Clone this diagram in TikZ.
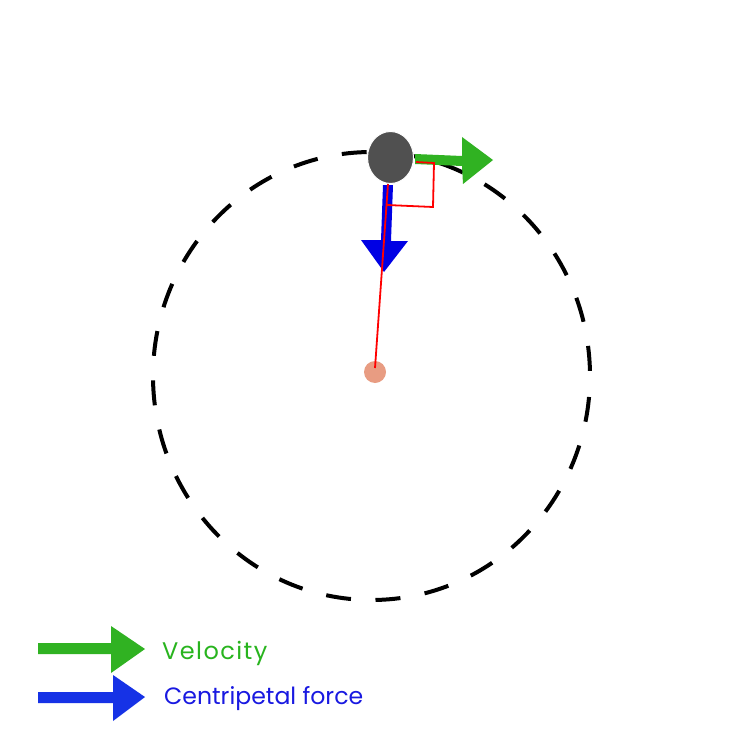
\documentclass[tikz,border=0pt]{standalone}
\usepackage{fontspec}
\setmainfont{Poppins}
\usetikzlibrary{shapes.geometric}
\definecolor{vgreen}{RGB}{48,178,34}
\definecolor{vtext}{RGB}{40,180,30}
\definecolor{fblue}{RGB}{0,0,228}
\definecolor{lblue}{RGB}{22,50,230}
\definecolor{ftext}{RGB}{25,25,225}
\definecolor{ballgray}{RGB}{80,80,80}
\definecolor{dotsalmon}{RGB}{232,156,130}
\begin{document}
\begin{tikzpicture}[x=1pt,y=-1pt,
  orbit/.style={line width=4pt, dash pattern=on 25pt off 24.6pt, dash phase=28.6pt},
  redline/.style={red, line width=1.8pt},
  legendtext/.style={anchor=base west, inner sep=0pt}]
\useasboundingbox (0,0) rectangle (754,754);
\fill[white] (0,0) rectangle (754,754);
% orbit
\draw[orbit] (371.5,376) ellipse [x radius=218.5, y radius=224];
% velocity arrow
\fill[vgreen] (415,154) -- (462,156) -- (462,137) -- (493,160) -- (463,184) -- (462,166) -- (415,164) -- cycle;
% force arrow
\fill[fblue] (383,185) -- (393,185) -- (391,241) -- (408,241) -- (384,272) -- (361,240) -- (381,240) -- cycle;
% centre
\node[circle, fill=dotsalmon, minimum size=22pt, inner sep=0pt] (centre) at (375,372) {};
% ball
\node[ellipse, fill=ballgray, draw=white, line width=1pt, minimum width=46pt, minimum height=52pt, inner sep=0pt] (ball) at (390.5,157.5) {};
% radius line and right angle
\coordinate (rc) at (375,368);
\coordinate (rb) at (388,184);
\draw[redline] (rc) -- (rb);
\draw[redline] (387,205) -- (433,207) -- (434,163) -- (416,162);
% legend
\fill[vgreen] (38,643) -- (111,643) -- (111,626) -- (145,649) -- (111,673) -- (111,654) -- (38,654) -- cycle;
\fill[lblue] (38,692) -- (113,692) -- (113,675) -- (145,697) -- (113,721) -- (113,703) -- (38,703) -- cycle;
\node[legendtext, text=vtext, font=\fontsize{24}{28}\selectfont\addfontfeatures{LetterSpace=6}] (vel) at (162,659) {Velocity};
\node[legendtext, text=ftext, font=\fontsize{23.6}{28}\selectfont] (cf) at (164,704) {Centripetal force};
\end{tikzpicture}
\end{document}
